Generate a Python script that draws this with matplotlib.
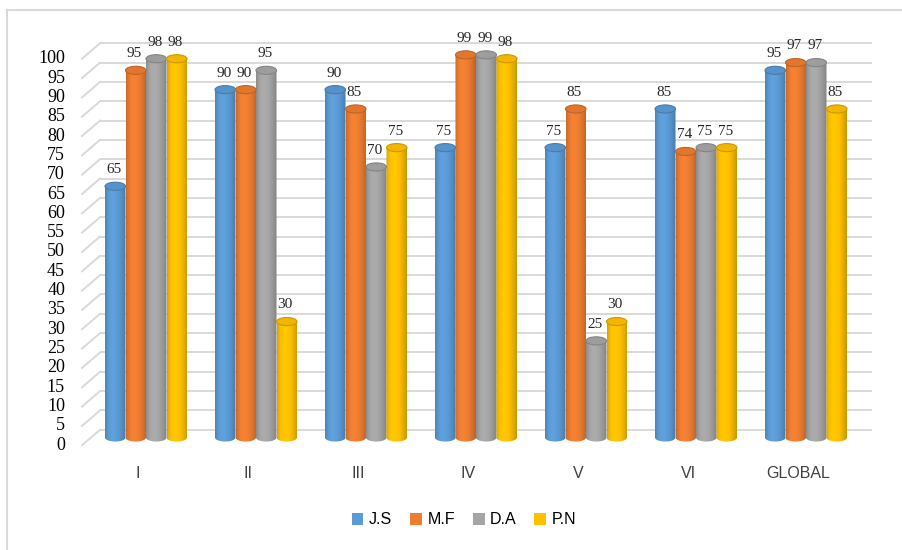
import numpy as np
import matplotlib
matplotlib.use('Agg')
import matplotlib.pyplot as plt
from matplotlib.path import Path
from matplotlib.patches import Ellipse, PathPatch, Patch
from matplotlib.lines import Line2D
from matplotlib.colors import to_rgb

# scores per section, one list per person
categories = ['I', 'II', 'III', 'IV', 'V', 'VI', 'GLOBAL']
series_names = ['J.S', 'M.F', 'D.A', 'P.N']
js = [65, 90, 90, 75, 75, 85, 95]
mf = [95, 90, 85, 99, 85, 74, 97]
da = [98, 95, 70, 99, 25, 75, 97]
pn = [98, 30, 75, 98, 30, 75, 85]
yticks = list(range(0, 101, 5))

colors = ['#5B9BD5', '#ED7D31', '#A5A5A5', '#FFC000']
grid_color = '#D9D9D9'

W, H = 902, 550
fig = plt.figure(figsize=(W / 100, H / 100), dpi=100)
ax = fig.add_axes([0, 0, 1, 1])

# pixel layout of the bar plane: category i centred at 146 + 110*i,
# value 0 at 437.5 px from the top, 3.865 px per unit
px_x0, px_dx = 146.0, 110.0
px_y0, px_dy = 437.5, 3.865
ax.set_xlim(-px_x0 / px_dx, (W - px_x0) / px_dx)
ax.set_ylim(-(H - px_y0) / px_dy, px_y0 / px_dy)
ax.axis('off')

def px2x(p):
    return (p - px_x0) / px_dx

# back wall gridlines with the short diagonals to the front edge
depth = 2.0
wall_l, wall_r, front_l = px2x(100), px2x(872), px2x(82)
for v in yticks:
    ax.plot([wall_l, wall_r], [v + depth, v + depth], color=grid_color, lw=1.4,
            zorder=1, solid_capstyle='butt')
    ax.plot([front_l, wall_l], [v - depth, v + depth], color=grid_color, lw=1.4,
            zorder=1)
    ax.text(px2x(65), v - depth, str(v), ha='right', va='center',
            family='Liberation Serif', fontsize=13, color='#000000')

for i, c in enumerate(categories):
    ax.text(i - 8 / px_dx, -9.2, c, ha='center', va='center',
            family='Liberation Sans', fontsize=11.5, color='#404040')

bar_w = 20.5 / px_dx
cap_h = 2.1
# smooth cylinder shading across the bar width
u = np.linspace(0, 1, 64)
shade = 1.04 - 0.26 * ((u - 0.35) / 0.65) ** 2
shade[u < 0.35] = 1.04 - 0.2 * ((0.35 - u[u < 0.35]) / 0.35) ** 2


def cylinder(xc, v, color):
    base = np.array(to_rgb(color))
    x0, x1 = xc - bar_w / 2, xc + bar_w / 2
    # body outline: straight sides, flat top, rounded bottom
    t = np.linspace(0, np.pi, 30)
    arc_x = xc + (bar_w / 2) * np.cos(t)
    arc_y = -(cap_h / 2) * np.sin(t)
    verts = [(x0, v), (x1, v)] + list(zip(arc_x, arc_y)) + [(x0, v)]
    codes = [Path.MOVETO] + [Path.LINETO] * (len(verts) - 2) + [Path.CLOSEPOLY]
    body = PathPatch(Path(verts, codes), facecolor='none', edgecolor='none')
    ax.add_patch(body)
    grad = np.clip(base[None, :] * shade[:, None], 0, 1)[None, :, :]
    im = ax.imshow(grad, extent=[x0, x1, -cap_h, v], aspect='auto',
                   interpolation='bilinear', zorder=3)
    im.set_clip_path(body)
    top = Ellipse((xc, v), bar_w, cap_h,
                  facecolor=np.clip(base * 0.95, 0, 1),
                  edgecolor=np.clip(base * 0.8, 0, 1), lw=0.8, zorder=4)
    ax.add_patch(top)


all_series = [js, mf, da, pn]
for s, vals in enumerate(all_series):
    for i, v in enumerate(vals):
        xc = i + (s - 1.5) * bar_w
        cylinder(xc, v, colors[s])
        ax.text(xc - 1.5 / px_dx, v + 4.3, str(v), ha='center', va='center',
                family='Liberation Serif', fontsize=11, color='#262626', zorder=5)

handles = [Patch(facecolor=c, edgecolor='none') for c in colors]
ax.legend(handles, series_names, loc='center', bbox_to_anchor=(464 / W, 0.055),
          ncol=4, frameon=False, handlelength=0.75, handleheight=0.75,
          handletextpad=0.35, columnspacing=1.1,
          prop={'family': 'Liberation Sans', 'size': 11.5})

# thin frame around the chart area
fig.add_artist(Line2D([7.5 / W, 1], [1 - 10 / H, 1 - 10 / H], color=grid_color, lw=1.5))
fig.add_artist(Line2D([7.5 / W, 7.5 / W], [0, 1 - 10 / H], color=grid_color, lw=1.5))

fig.savefig('out.png', dpi=100)
